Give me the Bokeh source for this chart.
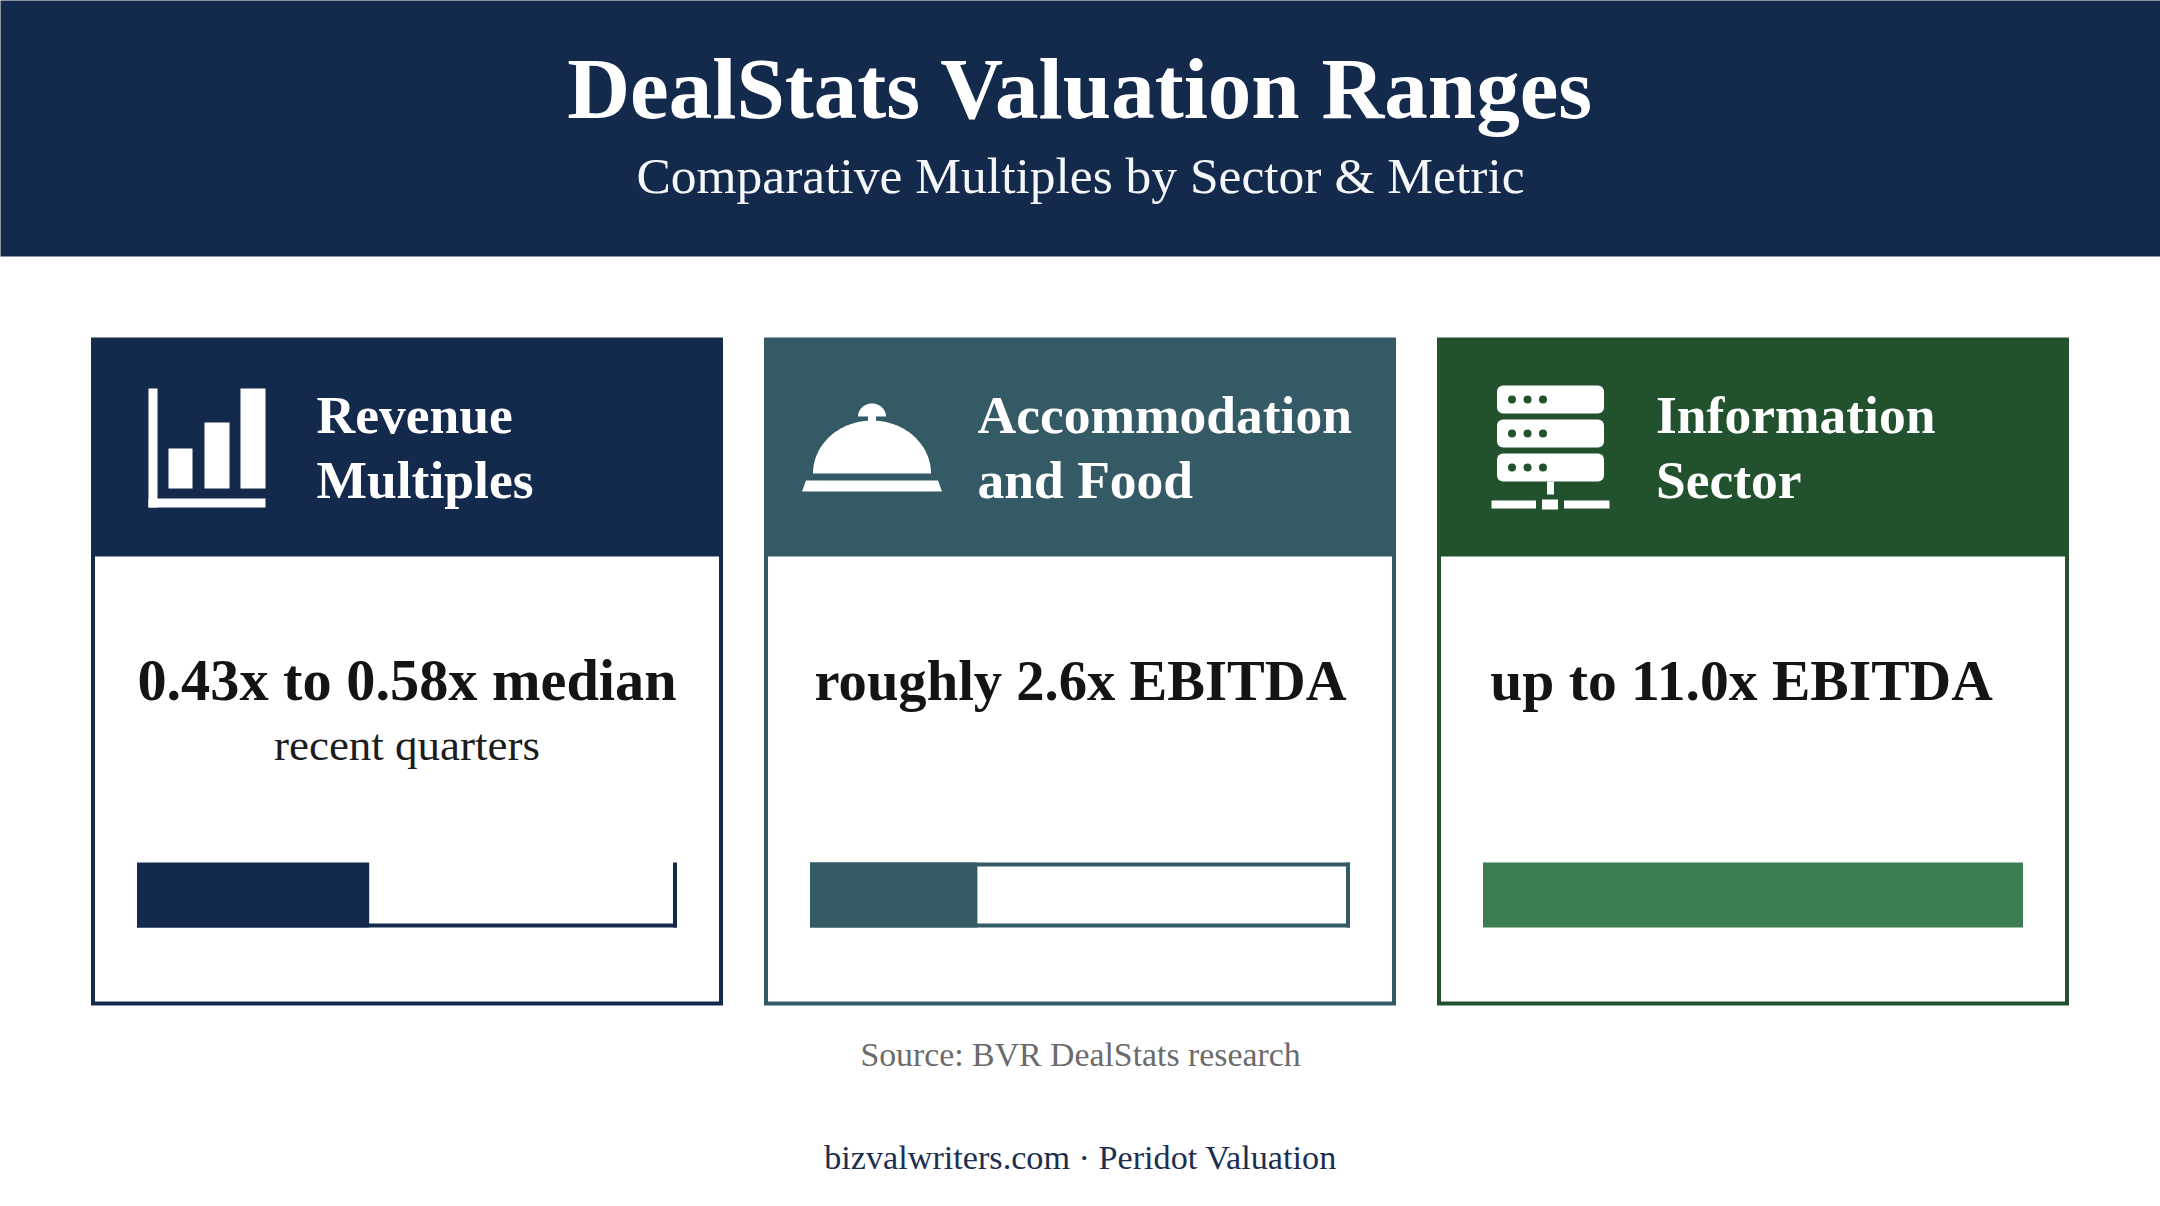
import numpy as np
from bokeh.core.properties import value
from bokeh.embed import file_html
from bokeh.models import ColumnDataSource, Range1d
from bokeh.plotting import figure
from bokeh.resources import INLINE

SERIF = value("Liberation Serif")

title = "DealStats Valuation Ranges"
subtitle = "Comparative Multiples by Sector & Metric"
source_note = "Source: BVR DealStats research"
footer = "bizvalwriters.com \u00b7 Peridot Valuation"

card_line1 = ["Revenue", "Accommodation", "Information"]
card_line2 = ["Multiples", "and Food", "Sector"]
card_values = ["0.43x to 0.58x median", "roughly 2.6x EBITDA", "up to 11.0x EBITDA"]
card_notes = ["recent quarters", "", ""]
# share of the track that is filled, in percent
fill_share = [43, 31, 100]

NAVY = "#142a4c"
TEAL = "#345a66"
GREEN = "#21512d"
card_colors = [NAVY, TEAL, GREEN]
fill_colors = [NAVY, TEAL, "#3b7d50"]
track_sides = [("bottom", "right"), ("top", "right", "bottom"), ()]

card_left = [90.5, 763.5, 1436.5]
CARD_W = 632
TEXT_X = [316, 977, 1655.5]
VALUE_X = [406.5, 1080, 1741]
VALUE_SIZE = [58.3, 56.6, 57.6]
TRACK_PAD = 46
TRACK_TOP, TRACK_BOTTOM = 862, 927
# the svg text sits lower than its anchor by this share of the font size
BASE_SHIFT = 0.38


def block(p, left, right, top, bottom, color, **kw):
    p.quad(left=[left], right=[right], top=[top], bottom=[bottom],
           fill_color=color, line_color=None, **kw)


def label(p, x, y, text, size, color, bold=False, align="center"):
    p.text(x=[x], y=[y - BASE_SHIFT * size], text=[text], text_font=SERIF,
           text_font_size=f"{size}px", text_color=color, text_align=align,
           text_baseline="alphabetic", text_font_style="bold" if bold else "normal")


def draw_chart_icon(p):
    block(p, 148, 157, 388, 507, "white")
    block(p, 148, 265, 498, 507, "white")
    for left, right, top in [(168, 192, 448), (204, 229, 422), (240, 265, 388)]:
        block(p, left, right, top, 488, "white")


def draw_bell_icon(p):
    t = np.linspace(np.pi, 2 * np.pi, 60)
    p.patch(871.5 + 59 * np.cos(t), 473 + 53 * np.sin(t), fill_color="white", line_color=None)
    p.patch(871.5 + 14 * np.cos(t), 416 + 13 * np.sin(t), fill_color="white", line_color=None)
    block(p, 867.5, 875.5, 414, 422, "white")
    p.patch([801.5, 805.5, 937.5, 941.5], [491, 480, 480, 491], fill_color="white", line_color=None)


def draw_server_icon(p):
    for top in [385, 419, 453]:
        p.quad(left=[1496.5], right=[1603.5], top=[top], bottom=[top + 28],
               fill_color="white", line_color=None, border_radius=6)
        p.circle(x=[1511.5, 1527, 1542.5], y=[top + 14] * 3, radius=4,
                 fill_color=GREEN, line_color=None)
    block(p, 1546.5, 1553.5, 481, 494, "white")
    block(p, 1491, 1535.5, 500, 508, "white")
    block(p, 1541.5, 1557.5, 499, 509, "white")
    block(p, 1563.5, 1609, 500, 508, "white")


p = figure(width=2160, height=1206, output_backend="svg", toolbar_location=None,
           x_range=Range1d(0, 2160), y_range=Range1d(1206, 0),
           min_border=0, outline_line_color=None,
           background_fill_color="white", border_fill_color="white")
p.axis.visible = False
p.grid.visible = False

# banner, runs past the frame so no light edge shows
block(p, -10, 2170, -10, 256, NAVY)
label(p, 1080, 121.5, title, 87, "white", bold=True)
label(p, 1080, 195, subtitle, 51.5, "#f4f6f8")

# cards
for i, color in enumerate(card_colors):
    left = card_left[i]
    block(p, left, left + CARD_W, 337, 1005, color)
    block(p, left + 4, left + CARD_W - 4, 556, 1001, "white")

    # value track, filled part comes from fill_share
    t_left = left + TRACK_PAD
    t_width = CARD_W - 2 * TRACK_PAD
    t_right = t_left + t_width
    src = ColumnDataSource(dict(left=[t_left], right=[t_left + t_width * fill_share[i] / 100],
                                top=[TRACK_TOP], bottom=[TRACK_BOTTOM]))
    p.quad(left="left", right="right", top="top", bottom="bottom", source=src,
           fill_color=fill_colors[i], line_color=None)
    if "top" in track_sides[i]:
        block(p, t_left, t_right, TRACK_TOP, TRACK_TOP + 4, color)
    if "bottom" in track_sides[i]:
        block(p, t_left, t_right, TRACK_BOTTOM - 4, TRACK_BOTTOM, color)
    if "right" in track_sides[i]:
        block(p, t_right - 4, t_right, TRACK_TOP, TRACK_BOTTOM, color)

    label(p, TEXT_X[i], 434.5, card_line1[i], 53.5, "white", bold=True, align="left")
    label(p, TEXT_X[i], 500, card_line2[i], 53.5, "white", bold=True, align="left")
    label(p, VALUE_X[i], 702, card_values[i], VALUE_SIZE[i], "#141414", bold=True)
    if card_notes[i]:
        label(p, VALUE_X[i], 761.5, card_notes[i], 45, "#1c1c1c")

draw_chart_icon(p)
draw_bell_icon(p)
draw_server_icon(p)

label(p, 1080, 1066.5, source_note, 33.8, "#6b6b6b")
label(p, 1080, 1169.5, footer, 34.2, "#1c2f50")

open("out.html", "w").write(file_html(p, INLINE))
